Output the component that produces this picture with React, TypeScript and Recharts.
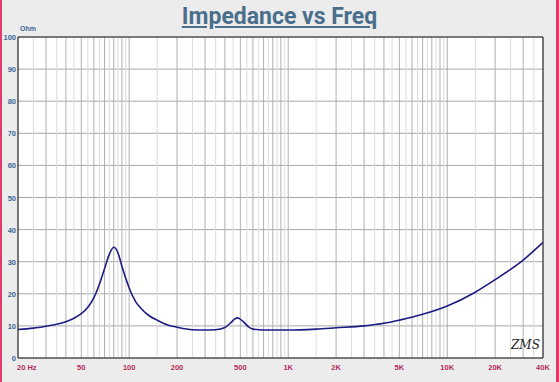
import React from 'react';
import { LineChart, Line, XAxis, YAxis, CartesianGrid, ReferenceLine } from 'recharts';

// impedance curve
const freqs = [20, 25, 30, 35, 40, 45, 50, 55, 60, 65, 70, 75, 80, 85, 90, 95, 100, 110, 120, 135, 150, 175, 200, 250, 300, 350, 400, 440, 460, 480, 520, 560, 600, 700, 1000, 1500, 2000, 3000, 4000, 5000, 7000, 10000, 15000, 20000, 30000, 40000];
const ohms = [8.9, 9.3, 9.9, 10.5, 11.3, 12.4, 13.8, 15.8, 18.8, 23, 27.8, 32.3, 34.5, 32.8, 28.6, 25, 21.8, 17.5, 15.2, 13, 11.8, 10.3, 9.6, 8.8, 8.7, 8.8, 9.5, 11.2, 12.1, 12.5, 11.4, 9.8, 9, 8.7, 8.7, 9, 9.4, 10, 10.8, 11.8, 13.6, 16.2, 20.5, 24.4, 30.5, 36];

const xTicks = [20, 50, 100, 200, 500, 1000, 2000, 5000, 10000, 20000, 40000];
const yTicks = [0, 10, 20, 30, 40, 50, 60, 70, 80, 90, 100];
const decades = [10, 100, 1000, 10000];
const steps = [1, 1.5, 2, 2.5, 3, 3.5, 4, 4.5, 5, 5.5, 6, 6.5, 7, 7.5, 8, 8.5, 9, 9.5];

const data = freqs.map((f, i) => ({ f, z: ohms[i] }));

const gridLines: { v: number; major: boolean }[] = [];
decades.forEach((d) => {
  steps.forEach((s) => {
    const v = d * s;
    if (v > 20 && v < 40000) gridLines.push({ v, major: Number.isInteger(s) });
  });
});

const fmtX = (v: number) => {
  if (v === 20) return '20 Hz';
  if (v >= 1000) return `${v / 1000}K`;
  return String(v);
};

const XTick = (props: any) => {
  const { x, y, payload } = props;
  const first = payload.value === 20;
  return (
    <text x={first ? x - 1 : x} y={y + 4} textAnchor={first ? 'start' : 'middle'} fontSize={7.5} fontWeight="bold" fill="#b42a5a" fontFamily="Arial, Liberation Sans, sans-serif">
      {fmtX(payload.value)}
    </text>
  );
};

const YTick = (props: any) => {
  const { y, payload } = props;
  return (
    <text x={16} y={y + 3} textAnchor="end" fontSize={7.5} fontWeight="bold" fill="#3d6896" fontFamily="Arial, Liberation Sans, sans-serif">
      {payload.value}
    </text>
  );
};

export default function App() {
  return (
    <div style={{ position: 'absolute', left: 0, top: 0, width: 559, height: 382, background: '#ececec', fontFamily: 'Roboto, sans-serif' }}>
      <div style={{ position: 'absolute', left: 0, top: 0, width: 2, height: 382, background: '#e23a6a' }} />
      <div style={{ position: 'absolute', right: 0, top: 0, width: 3, height: 382, background: '#e23a6a' }} />
      <div style={{ position: 'absolute', left: 0, top: 3, width: 559, textAlign: 'center', fontSize: 23, fontWeight: 'bold', color: '#4a6f8c', textDecoration: 'underline' }}>
        Impedance vs Freq
      </div>
      <div style={{ position: 'absolute', left: 20, top: 25, fontSize: 7, fontWeight: 'bold', color: '#3d6896', fontFamily: 'Arial, Liberation Sans, sans-serif' }}>
        Ohm
      </div>
      <div style={{ position: 'absolute', left: 0, top: 0 }}>
        <LineChart width={559} height={382} data={data} margin={{ top: 37, right: 16, bottom: 0, left: 0 }}>
          <CartesianGrid vertical={false} fill="#ffffff" stroke="#a8a8a8" strokeOpacity={1} />
          {gridLines.map((g) => (
            <ReferenceLine key={g.v} x={g.v} stroke={g.major ? '#b0b0b0' : '#dcdcdc'} strokeWidth={1} />
          ))}
          <ReferenceLine y={100} stroke="#222" strokeWidth={1.2} />
          <ReferenceLine x={40000} stroke="#222" strokeWidth={1.2} />
          <XAxis
            type="number"
            dataKey="f"
            scale="log"
            domain={[20, 40000]}
            ticks={xTicks}
            interval={0}
            tick={<XTick />}
            tickLine={false}
            axisLine={{ stroke: '#222', strokeWidth: 1.2 }}
            height={24}
            allowDataOverflow
          />
          <YAxis
            type="number"
            domain={[0, 100]}
            ticks={yTicks}
            interval={0}
            tick={<YTick />}
            tickLine={false}
            axisLine={{ stroke: '#222', strokeWidth: 1.2 }}
            width={18}
          />
          <Line type="monotone" dataKey="z" stroke="#1c1c84" strokeWidth={1.6} dot={false} isAnimationActive={false} />
        </LineChart>
      </div>
      <div style={{ position: 'absolute', left: 511, top: 338, fontSize: 12, fontStyle: 'italic', fontFamily: '"DejaVu Serif", serif', color: '#222' }}>
        ZMS
      </div>
    </div>
  );
}
